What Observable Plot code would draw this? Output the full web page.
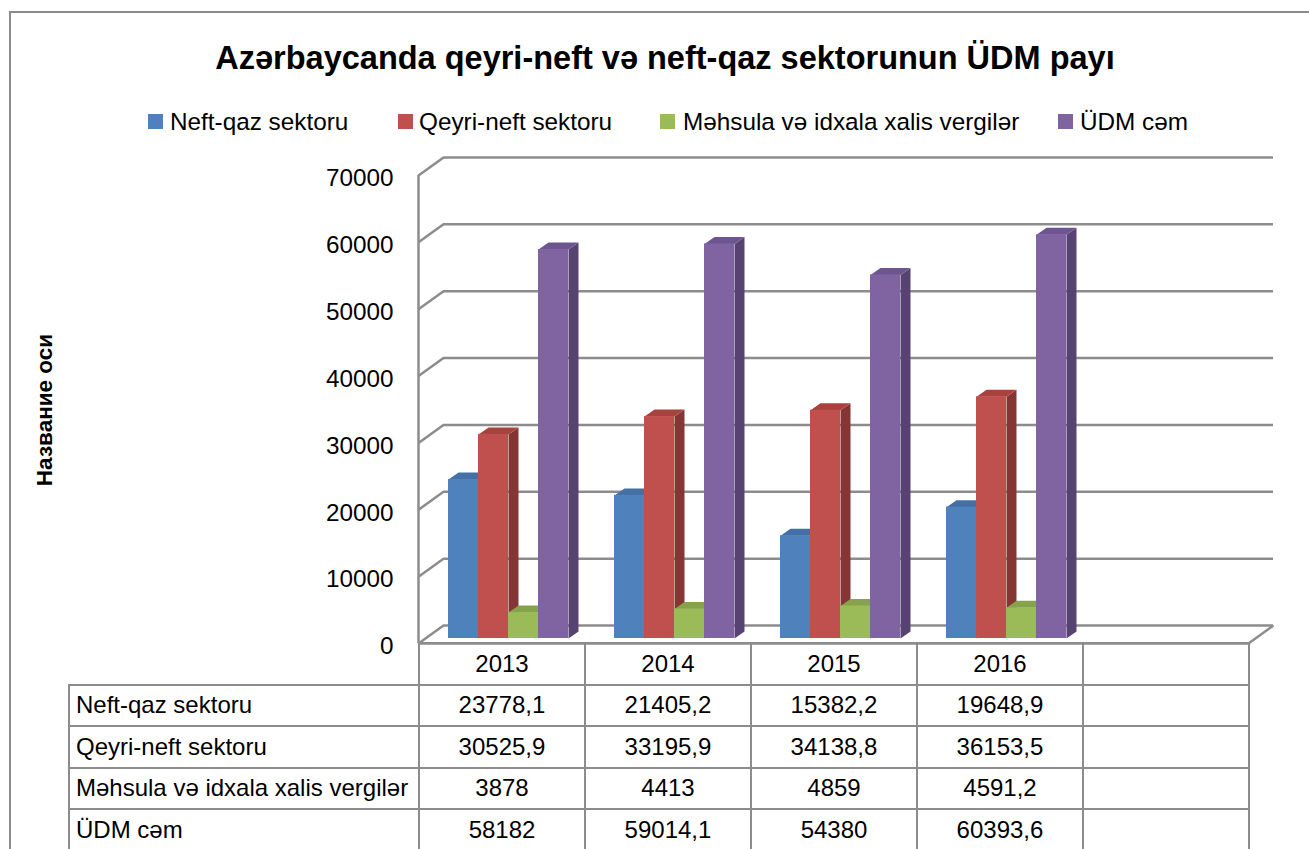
<!DOCTYPE html>
<html>
<head>
<meta charset="utf-8">
<script src="https://cdn.jsdelivr.net/npm/d3@7"></script>
<script src="https://cdn.jsdelivr.net/npm/@observablehq/plot@0.6"></script>
<style>
  html, body { margin: 0; padding: 0; background: #fff; overflow: hidden; }
  body { font-family: "Liberation Sans", Arial, sans-serif; color: #000; }
  #frame { position: relative; width: 1309px; height: 849px; overflow: hidden; background: #fff; }
  #border { position: absolute; left: 9px; top: 11px; width: 1400px; height: 900px;
            border-left: 2px solid #8c8c8c; border-top: 2px solid #8c8c8c; }
  #title { position: absolute; left: 0; top: 37px; width: 1330px; text-align: center;
           font-weight: bold; font-size: 32.5px; line-height: 42px; }
  .lg-sw { position: absolute; top: 114px; width: 15px; height: 15px; }
  .lg-tx { position: absolute; top: 107px; font-size: 24.3px; line-height: 30px; white-space: nowrap; }
  #ytitle { position: absolute; left: 45px; top: 410px; transform: translate(-50%, -50%) rotate(-90deg);
            font-weight: bold; font-size: 22.5px; white-space: nowrap; }
  #chart { position: absolute; left: 0; top: 140px; }
  #tbl { position: absolute; left: 68px; top: 642px; border-collapse: collapse; table-layout: fixed; }
  #tbl td { border: 2px solid #8c8c8c; height: 39.5px; padding: 0; font-size: 24px; text-align: center; white-space: nowrap; }
  #tbl td.lab { text-align: left; padding-left: 6px; }
  #tbl td.blank { border-top: none; border-left: none; }
</style>
</head>
<body>
<div id="frame">
  <div id="border"></div>
  <div id="title">Azərbaycanda qeyri-neft və neft-qaz sektorunun ÜDM payı</div>
  <div id="legend"></div>
  <div id="ytitle">Название оси</div>
  <div id="chart"></div>
  <table id="tbl"></table>
</div>
<script>
// ---------- data ----------
const years = ["2013", "2014", "2015", "2016"];
const emptyColumns = [""];
const seriesNames = ["Neft-qaz sektoru", "Qeyri-neft sektoru", "Məhsula və idxala xalis vergilər", "ÜDM cəm"];
const neftQaz   = [23778.1, 21405.2, 15382.2, 19648.9];
const qeyriNeft = [30525.9, 33195.9, 34138.8, 36153.5];
const vergiler  = [3878, 4413, 4859, 4591.2];
const udmCem    = [58182, 59014.1, 54380, 60393.6];
const yTicks = [0, 10000, 20000, 30000, 40000, 50000, 60000, 70000];

// ---------- styles ----------
const frontColors = ["#4F81BD", "#C0504D", "#9BBB59", "#8064A2"];
const topColors   = ["#4470A6", "#A8423F", "#86A34C", "#6D5590"];
const sideColors  = ["#385D8A", "#853634", "#6F883A", "#574372"];
const gridColor = "#8c8c8c";

const seriesValues = [neftQaz, qeyriNeft, vergiler, udmCem];
const categories = years.concat(emptyColumns);
const nCols = categories.length;

// 3D geometry (data units)
const pxPerUnitX = 166, pxPerUnitY = 468 / 70000;
const wallDx = 25 / pxPerUnitX, wallDy = 18 / pxPerUnitY;        // back wall depth
const barDx = 10 / pxPerUnitX, barDy = 7 / pxPerUnitY;           // bar depth
const groupPad = 23 / pxPerUnitX;
const barW = (1 - 2 * groupPad) / seriesNames.length;

const bars = [];
years.forEach((yr, i) => {
  seriesNames.forEach((name, s) => {
    const x1 = i + groupPad + s * barW;
    bars.push({year: yr, series: s, name, x1, x2: x1 + barW, v: seriesValues[s][i]});
  });
});
const sidePts = [], topPts = [];
bars.forEach((b, k) => {
  [[b.x2, 0], [b.x2 + barDx, barDy], [b.x2 + barDx, b.v + barDy], [b.x2, b.v]]
    .forEach(([x, y]) => sidePts.push({k, s: b.series, x, y}));
  [[b.x1, b.v], [b.x2, b.v], [b.x2 + barDx, b.v + barDy], [b.x1 + barDx, b.v + barDy]]
    .forEach(([x, y]) => topPts.push({k, s: b.series, x, y}));
});

const barShift = {dx: 7, dy: -5};

const chart = Plot.plot({
  width: 1309,
  height: 520,
  marginLeft: 418,
  marginRight: 61,
  marginTop: 35,
  marginBottom: 17,
  x: {domain: [0, nCols], axis: null},
  y: {domain: [0, 70000], axis: null},
  style: {fontFamily: "Liberation Sans, Arial, sans-serif", overflow: "visible", background: "transparent"},
  marks: [
    // back wall gridlines
    Plot.ruleY(yTicks, {y: d => d, x1: 0, x2: nCols, dx: 25, dy: -18, stroke: gridColor, strokeWidth: 2.5}),
    // left wall slants
    Plot.link(yTicks, {x1: 0, y1: d => d, x2: wallDx, y2: d => d + wallDy, stroke: gridColor, strokeWidth: 2.5}),
    // floor right slant
    Plot.link([0], {x1: nCols, y1: 0, x2: nCols + wallDx, y2: wallDy, stroke: gridColor, strokeWidth: 2.5}),
    // floor front edge and front vertical axis
    Plot.ruleY([0], {y: 0, x1: 0, x2: nCols, stroke: gridColor, strokeWidth: 2.5}),
    Plot.ruleX([0], {x: 0, y1: 0, y2: 70000, stroke: gridColor, strokeWidth: 2.5}),
    // y tick labels
    Plot.text(yTicks, {x: 0, y: d => d, text: d => String(d), textAnchor: "end", dx: -25, dy: 3,
      fontSize: 24.3, fill: "#000"}),
    // bars: sides, tops, fronts
    Plot.line(sidePts, {x: "x", y: "y", z: "k", fill: d => sideColors[d.s], stroke: "none", ...barShift}),
    Plot.line(topPts, {x: "x", y: "y", z: "k", fill: d => topColors[d.s], stroke: "none", ...barShift}),
    Plot.rect(bars, {x1: "x1", x2: "x2", y1: 0, y2: "v", fill: d => frontColors[d.series], ...barShift})
  ]
});
document.getElementById("chart").appendChild(chart);

// ---------- legend ----------
const legendSw = [148, 398, 660, 1058];
const legendTx = [170, 419, 683, 1080];
const legend = document.getElementById("legend");
seriesNames.forEach((name, s) => {
  const sw = document.createElement("div");
  sw.className = "lg-sw"; sw.style.left = legendSw[s] + "px"; sw.style.background = frontColors[s];
  const tx = document.createElement("div");
  tx.className = "lg-tx"; tx.style.left = legendTx[s] + "px"; tx.textContent = name;
  legend.appendChild(sw); legend.appendChild(tx);
});

// ---------- data table ----------
const fmt = v => String(v).replace(".", ",");
const tbl = document.getElementById("tbl");
const colgroup = document.createElement("colgroup");
[350].concat(categories.map(() => 166)).forEach(w => {
  const c = document.createElement("col"); c.style.width = w + "px"; colgroup.appendChild(c);
});
tbl.appendChild(colgroup);
const head = document.createElement("tr");
const blank = document.createElement("td"); blank.className = "blank"; head.appendChild(blank);
categories.forEach(c => { const td = document.createElement("td"); td.textContent = c; head.appendChild(td); });
tbl.appendChild(head);
seriesNames.forEach((name, s) => {
  const tr = document.createElement("tr");
  const lab = document.createElement("td"); lab.className = "lab"; lab.textContent = name; tr.appendChild(lab);
  categories.forEach((c, i) => {
    const td = document.createElement("td");
    td.textContent = i < years.length ? fmt(seriesValues[s][i]) : "";
    tr.appendChild(td);
  });
  tbl.appendChild(tr);
});
</script>
</body>
</html>
